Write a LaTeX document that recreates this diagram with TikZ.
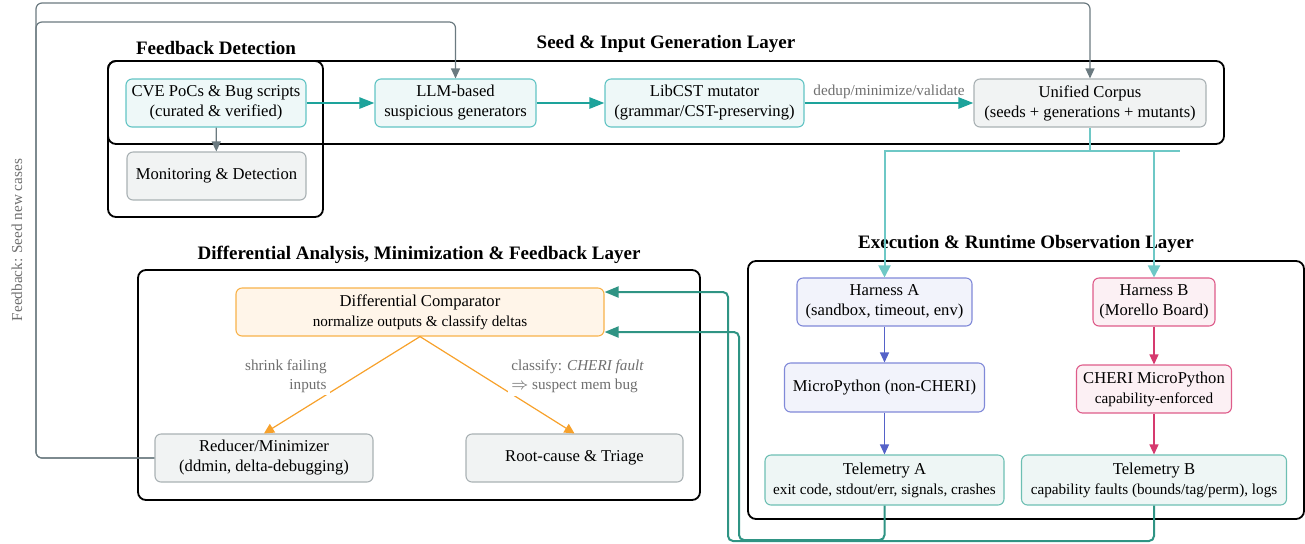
\documentclass[tikz,border=0pt]{standalone}
\usepackage{fontspec}
\setmainfont{Liberation Serif}
\usetikzlibrary{arrows.meta,calc}

\definecolor{tealline}{HTML}{1DA39B}
\definecolor{tealedge}{HTML}{62C4C4}
\definecolor{tealfill}{HTML}{EEF8F8}
\definecolor{grayedge}{HTML}{A9B1B4}
\definecolor{grayfill}{HTML}{F1F3F3}
\definecolor{grayline}{HTML}{6B7A80}
\definecolor{blueedge}{HTML}{8089D8}
\definecolor{bluefill}{HTML}{F2F3FB}
\definecolor{blueline}{HTML}{5562C8}
\definecolor{pinkedge}{HTML}{DE5C8A}
\definecolor{pinkfill}{HTML}{FCF0F4}
\definecolor{pinkline}{HTML}{D63A6F}
\definecolor{orangeedge}{HTML}{F8B24A}
\definecolor{orangefill}{HTML}{FFF5E9}
\definecolor{orangeline}{HTML}{F7A12B}
\definecolor{teledge}{HTML}{6DBFB3}
\definecolor{telfill}{HTML}{EEF6F5}
\definecolor{retline}{HTML}{2F9484}
\definecolor{corpline}{HTML}{6EC8C6}
\definecolor{labelgray}{HTML}{6F6F6F}

\newcommand{\mainsz}{\fontsize{8.3}{10}\selectfont}
\newcommand{\smallsz}{\fontsize{7.6}{9.5}\selectfont}
\newcommand{\titlesz}{\fontsize{9.5}{11}\selectfont\bfseries}

\begin{document}
\begin{tikzpicture}[x=0.5pt,y=-0.5pt,
  box/.style={draw, rounded corners=3pt, line width=0.55pt, align=center,
    inner sep=2pt, font=\mainsz},
  sz/.style 2 args={minimum width=#1*0.5pt, minimum height=#2*0.5pt},
  tealbox/.style={box, draw=tealedge, fill=tealfill},
  graybox/.style={box, draw=grayedge, fill=grayfill},
  bluebox/.style={box, draw=blueedge, fill=bluefill},
  pinkbox/.style={box, draw=pinkedge, fill=pinkfill},
  orangebox/.style={box, draw=orangeedge, fill=orangefill},
  telbox/.style={box, draw=teledge, fill=telfill},
  group/.style={draw=black, line width=0.9pt, rounded corners=4pt},
  ttl/.style={font=\titlesz, inner sep=1pt},
  lbl/.style={font=\smallsz, text=labelgray, inner sep=1.5pt},
  strong/.style={draw=tealline, line width=1.2pt,
    -{Triangle[length=7.5pt,width=5.5pt]}},
  grayarr/.style={draw=grayline, line width=0.6pt, rounded corners=3pt,
    -{Triangle[length=5pt,width=4.5pt]}},
  corp/.style={draw=corpline, line width=1pt},
  corparr/.style={corp, -{Triangle[length=6pt,width=6pt]}},
  bluearr/.style={draw=blueline, line width=0.6pt,
    -{Triangle[length=5pt,width=4.5pt]}},
  pinkarr/.style={draw=pinkline, line width=0.6pt,
    -{Triangle[length=5pt,width=4.5pt]}},
  orangearr/.style={draw=orangeline, line width=0.6pt,
    -{Triangle[length=5pt,width=5pt]}},
  ret/.style={draw=retline, line width=1pt, rounded corners=2.5pt,
    -{Triangle[length=7pt,width=5.5pt]}}
]
\useasboundingbox (0,0) rectangle (1305,543);

% layer frames and their titles
\draw[group] (108,61) rectangle (1224,144);
\draw[group] (108,61) rectangle (323,217);
\draw[group] (748,261) rectangle (1304,519);
\draw[group] (138,270) rectangle (700,500);

\node[ttl] (tFD) at (216,48) {Feedback Detection};
\node[ttl] (tSeed) at (666,44) {Seed \& Input Generation Layer};
\node[ttl] (tExec) at (1026,244) {Execution \& Runtime Observation Layer};
\node[ttl] (tDiff) at (419,255) {Differential Analysis, Minimization \& Feedback Layer};

% seed and input generation
\node[tealbox, sz={180}{48}] (cve) at (216,103) {CVE PoCs \& Bug scripts\\(curated \& verified)};
\node[graybox, sz={179}{48}] (mon) at (216.5,176) {Monitoring \& Detection};
\node[tealbox, sz={161}{48}] (llm) at (455.5,103) {LLM-based\\suspicious generators};
\node[tealbox, sz={199}{48}] (lib) at (704.5,103) {LibCST mutator\\(grammar/CST-preserving)};
\node[graybox, sz={232}{48}] (corpus) at (1090,103) {Unified Corpus\\(seeds + generations + mutants)};

% execution harnesses
\node[bluebox, sz={175}{48}] (harA) at (884.5,302) {Harness A\\(sandbox, timeout, env)};
\node[bluebox, sz={200}{49}] (mpA) at (884.5,387.5) {MicroPython (non-CHERI)};
\node[telbox, sz={239}{50}] (telA) at (884.5,480) {Telemetry A\\{\smallsz exit code, stdout/err, signals, crashes}};
\node[pinkbox, sz={122}{48}] (harB) at (1154,302) {Harness B\\(Morello Board)};
\node[pinkbox, sz={155}{48}] (mpB) at (1154,389) {CHERI MicroPython\\{\smallsz capability-enforced}};
\node[telbox, sz={265}{50}] (telB) at (1154,480) {Telemetry B\\{\smallsz capability faults (bounds/tag/perm), logs}};

% differential analysis
\node[orangebox, sz={368}{48}] (comp) at (420,312) {Differential Comparator\\{\smallsz normalize outputs \& classify deltas}};
\node[graybox, sz={218}{48}] (red) at (264,458) {Reducer/Minimizer\\(ddmin, delta-debugging)};
\node[graybox, sz={217}{48}] (root) at (574.5,458) {Root-cause \& Triage};

% generation pipeline
\draw[strong] (cve) -- (llm);
\draw[strong] (llm) -- (lib);
\draw[strong] (lib) -- node[lbl, above] {dedup/minimize/validate} (corpus);
\draw[grayarr] (cve) -- (mon);

% corpus fan-out to both harnesses
\coordinate (split) at (1090,151);
\coordinate (stub) at (1180,151);
\draw[corp] (corpus.south) -- (split);
\draw[corp] (split) -- (stub);
\draw[corparr] (split) -| (harA.north);
\draw[corparr] (split) -| (harB.north);

% execution chains
\draw[bluearr] (harA) -- (mpA);
\draw[bluearr] (mpA) -- (telA);
\draw[pinkarr] (harB) -- (mpB);
\draw[pinkarr] (mpB) -- (telB);

% telemetry back to the comparator
\coordinate (inA) at ($(comp.east)+(0,20)$);
\coordinate (inB) at ($(comp.east)+(0,-20)$);
\coordinate (bendA) at (739,540);
\coordinate (bendB) at (728,541);
\draw[ret] (telA.south) |- (bendA) |- (inA);
\draw[ret] (telB.south) |- (bendB) |- (inB);

% comparator outcomes
\draw[orangearr] (comp.south) -- (red.north);
\draw[orangearr] (comp.south) -- (root.north);
\node[lbl, fill=white, align=right, anchor=east] (lshrink) at (330,376) {shrink failing\\inputs};
\node[lbl, fill=white, align=left, anchor=west] (lclass) at (508,376) {classify: \textit{CHERI fault}\\$\Rightarrow$ suspect mem bug};

% feedback loops into generation
\coordinate (fbA) at (36,22);
\coordinate (fbB) at (36,3);
\draw[grayarr] (red.west) -| (fbA) -| (llm.north);
\draw[grayarr] (red.west) -| (fbB) -| (corpus.north);
\node[lbl, rotate=90] (fblabel) at (17,240) {Feedback: Seed new cases};
\end{tikzpicture}
\end{document}
